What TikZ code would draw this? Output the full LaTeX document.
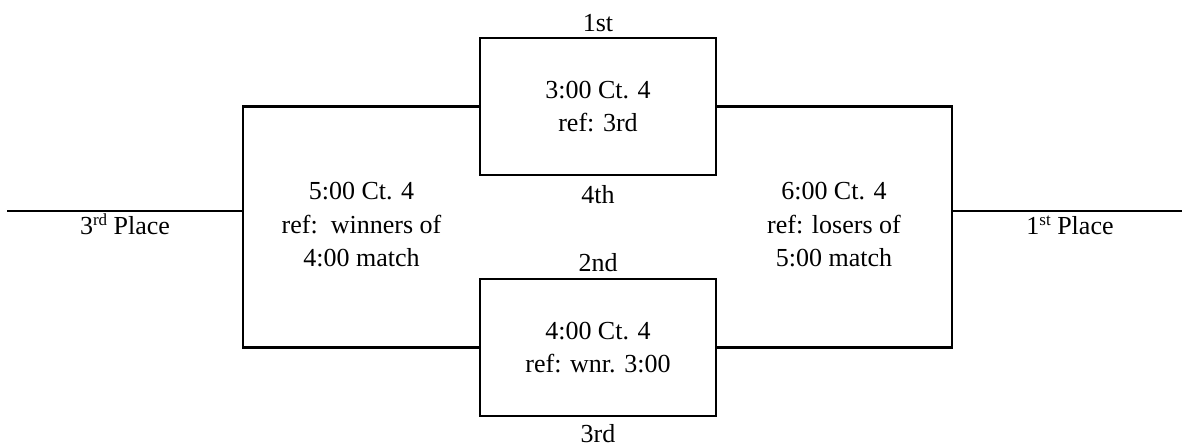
\documentclass[tikz,border=0pt]{standalone}
\usepackage{fontspec}
\setmainfont{Liberation Serif}
\newcommand{\supx}[1]{\raisebox{0.36em}{\fontsize{17bp}{17bp}\selectfont #1}}
\begin{document}
\begin{tikzpicture}[x=1bp,y=-1bp,
  wire/.style={line width=2.2bp,black},
  matchbox/.style={draw,line width=2.2bp,minimum width=236bp,minimum height=137bp,inner sep=0pt},
  txt/.style={font=\fontsize{26bp}{33.5bp}\selectfont,inner sep=0pt,anchor=base,align=center}]
\useasboundingbox (0,0) rectangle (1182,448);
\node[matchbox] (top) at (598,106.5) {};
\node[matchbox] (bot) at (598,347.5) {};
\coordinate (lv) at (243,211);
\coordinate (rv) at (952,211);
\coordinate (lend) at (7,211);
\coordinate (rend) at (1182,211);
\draw[wire] (top.west) -| (lv) |- (bot.west);
\draw[wire] (top.east) -| (rv) |- (bot.east);
\draw[wire] (lend) -- (lv);
\draw[wire] (rv) -- (rend);
% labels (base anchor = baseline of the last line)
\node[txt] (t1) at (598,132) {3:00 Ct. 4\\ref: 3rd};
\node[txt] (b1) at (598,373) {4:00 Ct. 4\\ref: wnr. 3:00};
\node[txt] (first) at (598,32) {1st};
\node[txt] (fourth) at (598,204) {4th};
\node[txt] (second) at (598,272) {2nd};
\node[txt] (third) at (598,443) {3rd};
\node[txt] (lm) at (361.5,267) {5:00 Ct. 4\\ref:\ \ winners of\\4:00 match};
\node[txt] (rm) at (834,267) {6:00 Ct. 4\\ref: losers of\\5:00 match};
\node[txt] (thirdplace) at (125,235) {3\supx{rd} Place};
\node[txt] (firstplace) at (1070,235) {1\supx{st} Place};
\end{tikzpicture}
\end{document}
